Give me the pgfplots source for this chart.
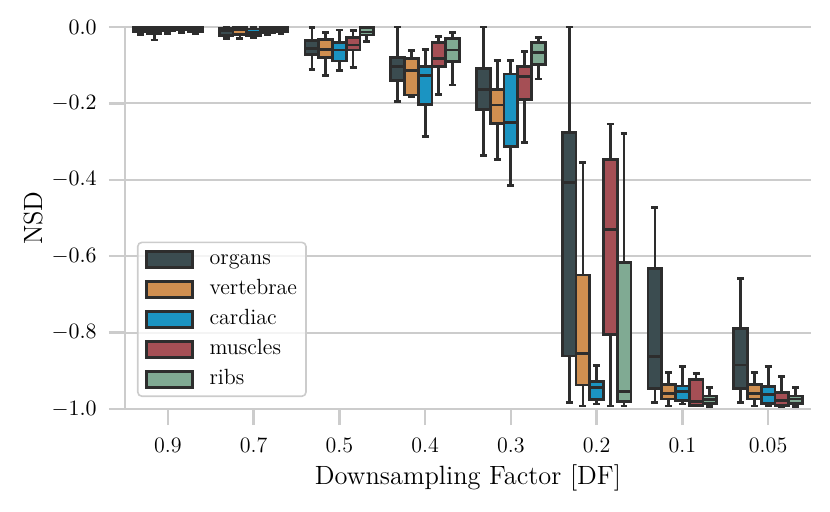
\documentclass[border=0pt]{standalone}
\usepackage{pgfplots}
\pgfplotsset{compat=1.18}
\usepgfplotslibrary{statistics}
\definecolor{edgec}{RGB}{45,45,45}
\definecolor{orgc}{RGB}{59,76,80}
\definecolor{verc}{RGB}{208,143,80}
\definecolor{carc}{RGB}{27,148,194}
\definecolor{musc}{RGB}{165,79,85}
\definecolor{ribc}{RGB}{128,170,147}
\definecolor{gridc}{RGB}{204,204,204}
% #1 position, #2 fill colour, #3 lower whisker, #4 lower quartile, #5 median, #6 upper quartile, #7 upper whisker
\newcommand{\bx}[7]{%
\addplot[forget plot, draw=edgec, line width=1.4pt, solid,
  boxplot prepared={draw position=#1, lower whisker=#3, lower quartile=#4,
    median=#5, upper quartile=#6, upper whisker=#7, box extend=0.16, whisker extend=0.08},
  boxplot/every box/.style={fill=#2, draw=edgec, line width=1.4pt, sharp corners},
  boxplot/every median/.style={draw=edgec, line width=1.4pt},
  boxplot/every whisker/.style={draw=edgec, line width=1.4pt}] coordinates {};}
\newcommand{\legpatch}[1]{\addlegendimage{legend image code/.code={\draw[sharp corners, fill=#1, fill opacity=1, draw=edgec, line width=1.4pt] (0pt,-4pt) rectangle (23pt,4pt);}}}
\begin{document}
\begin{tikzpicture}
\path[use as bounding box] (-62.5pt,-51pt) rectangle (352.5pt,204.5pt);
\begin{axis}[
  at={(0,0)}, anchor=south west,
  scale only axis, width=343pt, height=191pt,
  xmin=-0.5, xmax=7.5, ymin=-1, ymax=0,
  clip=false,
  boxplot/draw direction=y,
  axis x line*=bottom, axis y line*=left,
  axis line style={draw=gridc, line width=1.2pt, -},
  xtick={0,1,2,3,4,5,6,7},
  xticklabels={0.9,0.7,0.5,0.4,0.3,0.2,0.1,0.05},
  ytick={-1,-0.8,-0.6,-0.4,-0.2,0},
  yticklabel={\pgfmathprintnumber[fixed,fixed zerofill,precision=1]{\tick}},
  tick align=outside, major tick length=8pt,
  major tick style={draw=gridc, line width=1.2pt},
  ymajorgrids, grid style={draw=gridc, line width=1pt},
  xticklabel style={font=\fontsize{11}{13}\selectfont, anchor=north, inner sep=0pt, yshift=-6pt},
  yticklabel style={font=\fontsize{11}{13}\selectfont, anchor=east, inner sep=0pt, xshift=-6pt},
  xlabel={Downsampling Factor [DF]},
  ylabel={NSD},
  xlabel style={font=\fontsize{13.2}{15}\selectfont, at={(axis description cs:0.5,-0.1806)}, anchor=center},
  ylabel style={font=\fontsize{13.2}{15}\selectfont, at={(axis description cs:-0.1341,0.5)}, anchor=center},
  legend cell align=left,
  legend style={draw=gridc, line width=0.8pt, rounded corners=2pt, fill=white, fill opacity=0.8, text opacity=1,
    font=\fontsize{11}{13}\selectfont,
    at={(axis description cs:0,0)}, anchor=south west, xshift=6pt, yshift=6pt,
    inner xsep=3.5pt, inner ysep=2.6pt, row sep=3.3pt,
    nodes={inner sep=1pt, text height=7.6pt, text depth=2.1pt},
    /tikz/every odd column/.append style={column sep=7pt}},
]
% DF 0.9
\bx{-0.32}{orgc}{-0.020}{-0.012}{-0.006}{-0.002}{0.000}
\bx{-0.16}{verc}{-0.034}{-0.018}{-0.009}{-0.002}{0.000}
\bx{0.00}{carc}{-0.016}{-0.010}{-0.005}{-0.001}{0.000}
\bx{0.16}{musc}{-0.014}{-0.008}{-0.004}{-0.001}{0.000}
\bx{0.32}{ribc}{-0.016}{-0.011}{-0.006}{-0.002}{0.000}
% DF 0.7
\bx{0.68}{orgc}{-0.031}{-0.022}{-0.010}{-0.003}{0.000}
\bx{0.84}{verc}{-0.030}{-0.020}{-0.008}{-0.002}{0.000}
\bx{1.00}{carc}{-0.028}{-0.022}{-0.014}{-0.005}{0.000}
\bx{1.16}{musc}{-0.020}{-0.014}{-0.007}{-0.002}{0.000}
\bx{1.32}{ribc}{-0.016}{-0.012}{-0.006}{-0.002}{0.000}
% DF 0.5
\bx{1.68}{orgc}{-0.112}{-0.072}{-0.056}{-0.036}{-0.002}
\bx{1.84}{verc}{-0.126}{-0.080}{-0.058}{-0.032}{-0.015}
\bx{2.00}{carc}{-0.114}{-0.089}{-0.060}{-0.041}{-0.008}
\bx{2.16}{musc}{-0.106}{-0.060}{-0.047}{-0.027}{-0.010}
\bx{2.32}{ribc}{-0.038}{-0.021}{-0.013}{-0.002}{0.000}
% DF 0.4
\bx{2.68}{orgc}{-0.196}{-0.139}{-0.104}{-0.079}{0.000}
\bx{2.84}{verc}{-0.183}{-0.178}{-0.114}{-0.082}{-0.062}
\bx{3.00}{carc}{-0.287}{-0.202}{-0.126}{-0.104}{-0.058}
\bx{3.16}{musc}{-0.176}{-0.104}{-0.082}{-0.041}{-0.025}
\bx{3.32}{ribc}{-0.152}{-0.091}{-0.060}{-0.030}{-0.015}
% DF 0.3
\bx{3.68}{orgc}{-0.337}{-0.215}{-0.163}{-0.108}{0.000}
\bx{3.84}{verc}{-0.346}{-0.252}{-0.204}{-0.163}{-0.088}
\bx{4.00}{carc}{-0.414}{-0.313}{-0.250}{-0.123}{-0.088}
\bx{4.16}{musc}{-0.302}{-0.189}{-0.130}{-0.104}{-0.065}
\bx{4.32}{ribc}{-0.136}{-0.099}{-0.066}{-0.040}{-0.028}
% DF 0.2
\bx{4.68}{orgc}{-0.982}{-0.861}{-0.407}{-0.276}{0.000}
\bx{4.84}{verc}{-0.992}{-0.937}{-0.854}{-0.649}{-0.355}
\bx{5.00}{carc}{-0.987}{-0.976}{-0.943}{-0.928}{-0.887}
\bx{5.16}{musc}{-0.992}{-0.804}{-0.531}{-0.346}{-0.254}
\bx{5.32}{ribc}{-0.992}{-0.981}{-0.955}{-0.616}{-0.278}
% DF 0.1
\bx{5.68}{orgc}{-0.983}{-0.946}{-0.863}{-0.632}{-0.472}
\bx{5.84}{verc}{-0.992}{-0.974}{-0.959}{-0.935}{-0.905}
\bx{6.00}{carc}{-0.987}{-0.978}{-0.955}{-0.940}{-0.889}
\bx{6.16}{musc}{-0.992}{-0.990}{-0.981}{-0.922}{-0.907}
\bx{6.32}{ribc}{-0.994}{-0.985}{-0.975}{-0.966}{-0.943}
% DF 0.05
\bx{6.68}{orgc}{-0.983}{-0.946}{-0.885}{-0.790}{-0.658}
\bx{6.84}{verc}{-0.992}{-0.974}{-0.959}{-0.935}{-0.905}
\bx{7.00}{carc}{-0.990}{-0.985}{-0.961}{-0.942}{-0.889}
\bx{7.16}{musc}{-0.993}{-0.990}{-0.978}{-0.957}{-0.915}
\bx{7.32}{ribc}{-0.994}{-0.985}{-0.974}{-0.966}{-0.943}
\legpatch{orgc}\addlegendentry{organs}
\legpatch{verc}\addlegendentry{vertebrae}
\legpatch{carc}\addlegendentry{cardiac}
\legpatch{musc}\addlegendentry{muscles}
\legpatch{ribc}\addlegendentry{ribs}
\end{axis}
\end{tikzpicture}
\end{document}
